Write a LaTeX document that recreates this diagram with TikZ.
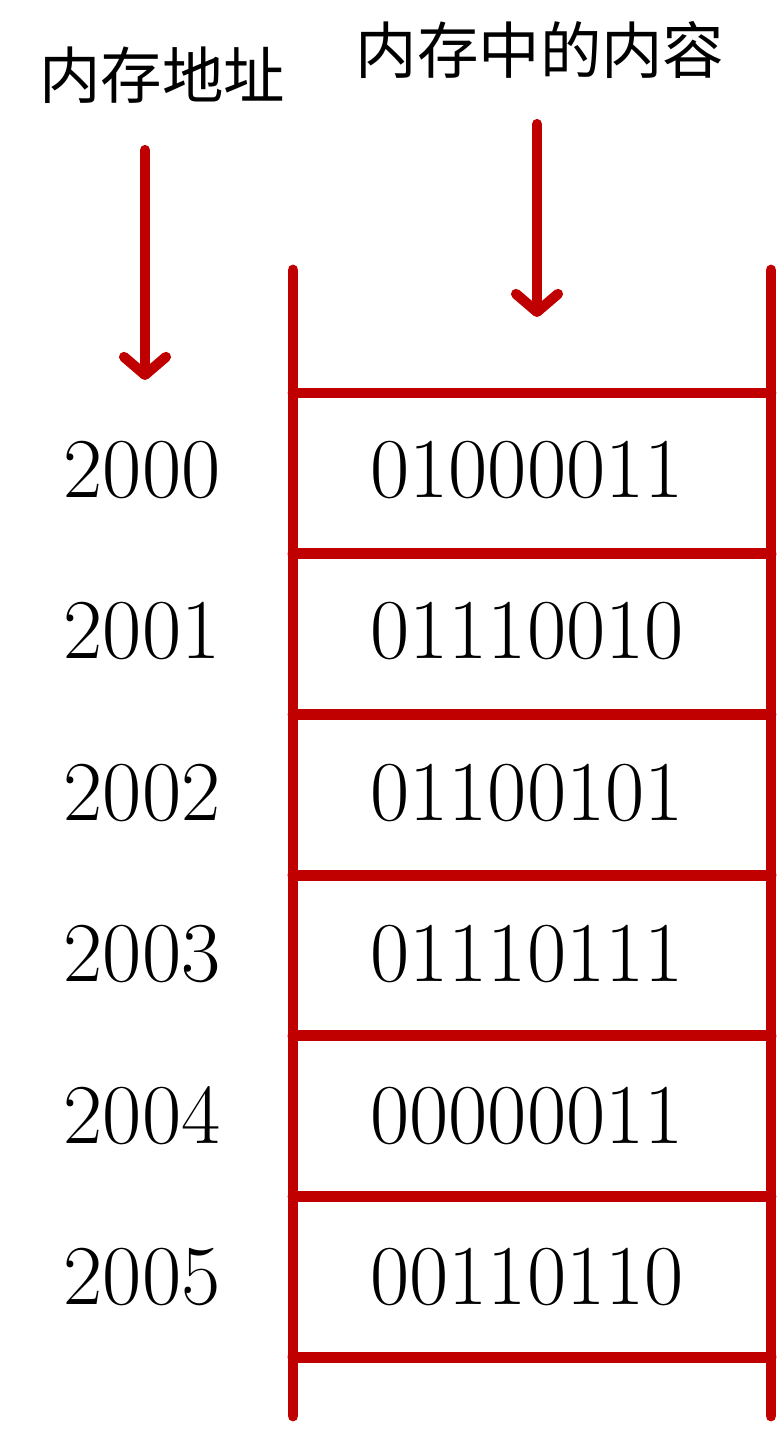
\documentclass[tikz,border=0pt]{standalone}
\usepackage{fontspec}
\newfontfamily\cjk{Noto Sans CJK SC}
\usetikzlibrary{arrows.meta, positioning}
\definecolor{memred}{HTML}{C00000}

\begin{document}
\begin{tikzpicture}[x=0.02cm, y=-0.02cm,
    frame/.style={draw=memred, line width=6.2pt, line cap=round},
    pointer/.style={draw=memred, line width=5.8pt, line cap=round,
        -{Straight Barb[round, length=0.36cm, width=0.84cm]}},
    addr/.style={font=\fontsize{48.5}{48.5}\selectfont, inner sep=0pt},
    cell/.style={addr},
    title/.style={font=\cjk\fontsize{35}{35}\selectfont, inner sep=0pt}
]
\useasboundingbox (0,0) rectangle (778,1441);

% headings
\node[title] (addrtitle) at (162,75) {内存地址};
\node[title] (celltitle) at (540,50) {内存中的内容};

% addresses and contents
\foreach \i/\val in {0/01000011, 1/01110010, 2/01100101, 3/01110111, 4/00000011, 5/00110110} {
    \node[addr] (a\i) at (142,{470+161.5*\i}) {200\i};
    \node[cell] (c\i) at (527,{470+161.5*\i}) {\val};
}

% memory column
\draw[frame] (293,270) -- (293,1416);
\draw[frame] (771,270) -- (771,1416);
\foreach \k in {0,...,6}
    \draw[frame] (293,{393+160.7*\k}) -- (771,{393+160.7*\k});

% pointers
\coordinate (addrfrom) at (145,150);
\coordinate (addrto) at (145,380);
\coordinate (cellfrom) at (537,124);
\coordinate (cellto) at (537,317);
\draw[pointer] (addrfrom) -- (addrto);
\draw[pointer] (cellfrom) -- (cellto);
\end{tikzpicture}
\end{document}
